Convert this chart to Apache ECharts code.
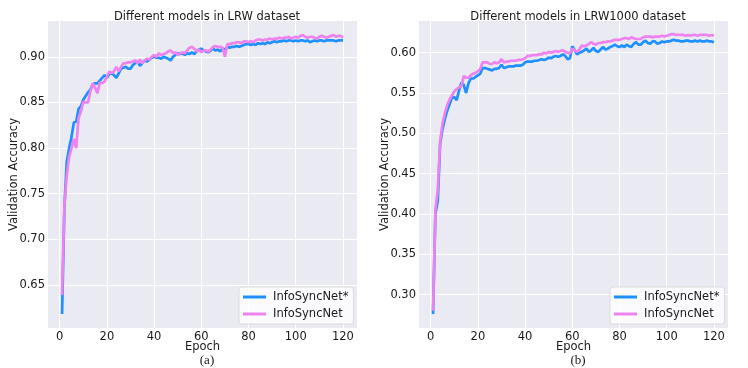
<!DOCTYPE html>
<html>
<head>
<meta charset="utf-8">
<script src="https://cdn.jsdelivr.net/npm/echarts@6/dist/echarts.min.js"></script>
<style>
  html, body { margin: 0; padding: 0; background: #fff; }
  #chart { width: 748px; height: 368px; }
</style>
</head>
<body>
<div id="chart"></div>
<script>
// epochs 1..120
const epochs = Array.from({ length: 120 }, (_, i) => i + 1);

// LRW dataset
const lrwStar = [
  0.618, 0.735, 0.785, 0.800, 0.812, 0.828, 0.829, 0.843, 0.846, 0.853,
  0.857, 0.861, 0.864, 0.870, 0.871, 0.871, 0.874, 0.877, 0.880, 0.877,
  0.881, 0.882, 0.880, 0.877, 0.882, 0.887, 0.888, 0.889, 0.887, 0.887,
  0.891, 0.893, 0.895, 0.890, 0.893, 0.896, 0.895, 0.897, 0.899, 0.900,
  0.899, 0.899, 0.898, 0.900, 0.899, 0.898, 0.896, 0.900, 0.902, 0.904,
  0.903, 0.904, 0.902, 0.904, 0.903, 0.905, 0.903, 0.906, 0.908, 0.909,
  0.907, 0.906, 0.905, 0.907, 0.909, 0.907, 0.908, 0.906, 0.909, 0.908,
  0.911, 0.910, 0.911, 0.911, 0.912, 0.911, 0.912, 0.913, 0.914, 0.914,
  0.913, 0.914, 0.913, 0.915, 0.914, 0.915, 0.914, 0.916, 0.915, 0.916,
  0.917, 0.916, 0.917, 0.917, 0.918, 0.917, 0.918, 0.918, 0.917, 0.918,
  0.917, 0.918, 0.918, 0.917, 0.918, 0.916, 0.917, 0.918, 0.917, 0.918,
  0.918, 0.917, 0.918, 0.918, 0.918, 0.918, 0.917, 0.918, 0.918, 0.918
];
const lrwBase = [
  0.639, 0.737, 0.770, 0.790, 0.800, 0.810, 0.800, 0.833, 0.840, 0.851,
  0.850, 0.850, 0.862, 0.871, 0.866, 0.860, 0.872, 0.871, 0.873, 0.878,
  0.884, 0.882, 0.884, 0.889, 0.884, 0.889, 0.893, 0.893, 0.894, 0.894,
  0.895, 0.896, 0.893, 0.897, 0.893, 0.896, 0.898, 0.897, 0.900, 0.902,
  0.900, 0.904, 0.902, 0.903, 0.904, 0.906, 0.907, 0.904, 0.905, 0.902,
  0.904, 0.905, 0.904, 0.907, 0.910, 0.911, 0.909, 0.906, 0.908, 0.905,
  0.907, 0.907, 0.906, 0.908, 0.911, 0.912, 0.911, 0.911, 0.910, 0.900,
  0.914, 0.914, 0.915, 0.915, 0.916, 0.916, 0.915, 0.917, 0.917, 0.916,
  0.917, 0.916, 0.918, 0.919, 0.919, 0.918, 0.919, 0.919, 0.920, 0.919,
  0.920, 0.920, 0.921, 0.920, 0.921, 0.921, 0.922, 0.920, 0.921, 0.922,
  0.921, 0.923, 0.924, 0.922, 0.921, 0.922, 0.922, 0.921, 0.920, 0.922,
  0.923, 0.922, 0.921, 0.922, 0.923, 0.924, 0.922, 0.923, 0.923, 0.921
];

// LRW1000 dataset
const lrw1000Star = [
  0.276, 0.400, 0.416, 0.487, 0.505, 0.518, 0.528, 0.536, 0.544, 0.545,
  0.541, 0.553, 0.563, 0.560, 0.550, 0.562, 0.568, 0.568, 0.570, 0.572,
  0.574, 0.581, 0.581, 0.580, 0.579, 0.578, 0.580, 0.580, 0.581, 0.585,
  0.581, 0.582, 0.583, 0.583, 0.583, 0.584, 0.584, 0.584, 0.585, 0.588,
  0.589, 0.589, 0.589, 0.590, 0.590, 0.591, 0.592, 0.591, 0.592, 0.594,
  0.593, 0.595, 0.596, 0.595, 0.596, 0.598, 0.596, 0.592, 0.593, 0.608,
  0.603, 0.598, 0.600, 0.601, 0.603, 0.605, 0.601, 0.603, 0.606, 0.602,
  0.601, 0.604, 0.607, 0.604, 0.605, 0.607, 0.608, 0.610, 0.608, 0.607,
  0.609, 0.607, 0.610, 0.608, 0.607, 0.611, 0.613, 0.610, 0.610, 0.613,
  0.615, 0.612, 0.611, 0.614, 0.614, 0.611, 0.612, 0.614, 0.613, 0.614,
  0.614, 0.615, 0.616, 0.615, 0.615, 0.614, 0.614, 0.615, 0.615, 0.614,
  0.614, 0.615, 0.614, 0.615, 0.614, 0.614, 0.615, 0.614, 0.614, 0.613
];
const lrw1000Base = [
  0.280, 0.405, 0.430, 0.490, 0.512, 0.525, 0.535, 0.542, 0.547, 0.552,
  0.555, 0.557, 0.558, 0.571, 0.569, 0.569, 0.572, 0.574, 0.575, 0.577,
  0.580, 0.588, 0.588, 0.588, 0.586, 0.586, 0.588, 0.587, 0.588, 0.592,
  0.588, 0.589, 0.589, 0.590, 0.590, 0.590, 0.591, 0.591, 0.592, 0.593,
  0.596, 0.596, 0.597, 0.597, 0.597, 0.598, 0.598, 0.600, 0.599, 0.601,
  0.600, 0.601, 0.602, 0.601, 0.602, 0.603, 0.601, 0.600, 0.599, 0.605,
  0.603, 0.601, 0.604, 0.609, 0.608, 0.609, 0.611, 0.613, 0.611, 0.610,
  0.612, 0.612, 0.613, 0.613, 0.614, 0.614, 0.615, 0.616, 0.616, 0.616,
  0.617, 0.618, 0.618, 0.617, 0.619, 0.618, 0.617, 0.617, 0.617, 0.619,
  0.620, 0.620, 0.620, 0.619, 0.620, 0.620, 0.620, 0.621, 0.620, 0.621,
  0.622, 0.623, 0.623, 0.622, 0.622, 0.622, 0.622, 0.621, 0.622, 0.621,
  0.622, 0.622, 0.621, 0.622, 0.622, 0.622, 0.622, 0.621, 0.622, 0.621
];

const xTicks = [0, 20, 40, 60, 80, 100, 120];
const yTicksLrw = [0.65, 0.70, 0.75, 0.80, 0.85, 0.90];
const yTicksLrw1000 = [0.30, 0.35, 0.40, 0.45, 0.50, 0.55, 0.60];

const textColor = "#1a1a1a";
const font = "DejaVu Sans";

function pairs(ys) {
  return epochs.map((e, i) => [e, ys[i]]);
}

function xAxisFor(gridIndex) {
  return {
    type: "value",
    gridIndex,
    min: -4.95,
    max: 125.95,
    name: "Epoch",
    nameLocation: "middle",
    nameGap: 13,
    nameMoveOverlap: false,
    nameTextStyle: { color: textColor, fontSize: 11.5, fontFamily: font },
    axisLine: { show: false },
    axisTick: { show: false, customValues: xTicks },
    axisLabel: {
      customValues: xTicks,
      color: textColor, fontSize: 11.5, fontFamily: font, margin: 3,
      formatter: (v) => String(v),
    },
    splitLine: { show: true, customValues: xTicks, lineStyle: { color: "#fff", width: 1 } },
  };
}

function yAxisFor(gridIndex, min, max, ticks) {
  return {
    type: "value",
    gridIndex,
    min, max,
    name: "Validation Accuracy",
    nameLocation: "middle",
    nameGap: 28,
    nameMoveOverlap: false,
    nameTextStyle: { color: textColor, fontSize: 11.5, fontFamily: font },
    axisLine: { show: false },
    axisTick: { show: false, customValues: ticks },
    axisLabel: {
      customValues: ticks,
      color: textColor, fontSize: 11.5, fontFamily: font, margin: 3,
      formatter: (v) => v.toFixed(2),
    },
    splitLine: { show: true, customValues: ticks, lineStyle: { color: "#fff", width: 1 } },
  };
}

function legendFor(left) {
  return {
    data: ["InfoSyncNet*", "InfoSyncNet"],
    orient: "vertical",
    left, top: 287,
    padding: [4, 5, 4, 4],
    itemGap: 5,
    itemWidth: 23,
    itemHeight: 3,
    icon: "rect",
    backgroundColor: "rgba(255,255,255,0.8)",
    borderColor: "#dcdcdc",
    borderWidth: 1,
    borderRadius: 3,
    textStyle: { color: textColor, fontSize: 11.5, fontFamily: font, padding: [0, 0, 0, 2] },
  };
}

function lineSeries(name, color, data, idx) {
  return {
    name, type: "line",
    xAxisIndex: idx, yAxisIndex: idx,
    data: pairs(data),
    showSymbol: false,
    symbol: "none",
    lineStyle: { color, width: 2.7 },
    itemStyle: { color },
    animation: false,
  };
}

const chart = echarts.init(document.getElementById("chart"));
chart.setOption({
  backgroundColor: "#fff",
  animation: false,
  title: [
    { text: "Different models in LRW dataset", left: 202, top: 6, textAlign: "center",
      textStyle: { color: textColor, fontSize: 11.5, fontWeight: "normal", fontFamily: font } },
    { text: "Different models in LRW1000 dataset", left: 573, top: 6, textAlign: "center",
      textStyle: { color: textColor, fontSize: 11.5, fontWeight: "normal", fontFamily: font } },
    { text: "(a)", left: 202, top: 349, textAlign: "center",
      textStyle: { color: textColor, fontSize: 13, fontWeight: "normal", fontFamily: "Liberation Serif" } },
    { text: "(b)", left: 573, top: 349, textAlign: "center",
      textStyle: { color: textColor, fontSize: 13, fontWeight: "normal", fontFamily: "Liberation Serif" } },
  ],
  grid: [
    { left: 48, top: 21, width: 309, height: 307, show: true, backgroundColor: "#EAEAF2", borderWidth: 0 },
    { left: 419, top: 21, width: 309, height: 307, show: true, backgroundColor: "#EAEAF2", borderWidth: 0 },
  ],
  legend: [legendFor(239), legendFor(610)],
  xAxis: [xAxisFor(0), xAxisFor(1)],
  yAxis: [
    yAxisFor(0, 0.6027, 0.9393, yTicksLrw),
    yAxisFor(1, 0.2587, 0.6393, yTicksLrw1000),
  ],
  series: [
    lineSeries("InfoSyncNet*", "#1E90FF", lrwStar, 0),
    lineSeries("InfoSyncNet", "#EE82EE", lrwBase, 0),
    lineSeries("InfoSyncNet*", "#1E90FF", lrw1000Star, 1),
    lineSeries("InfoSyncNet", "#EE82EE", lrw1000Base, 1),
  ],
});
</script>
</body>
</html>
